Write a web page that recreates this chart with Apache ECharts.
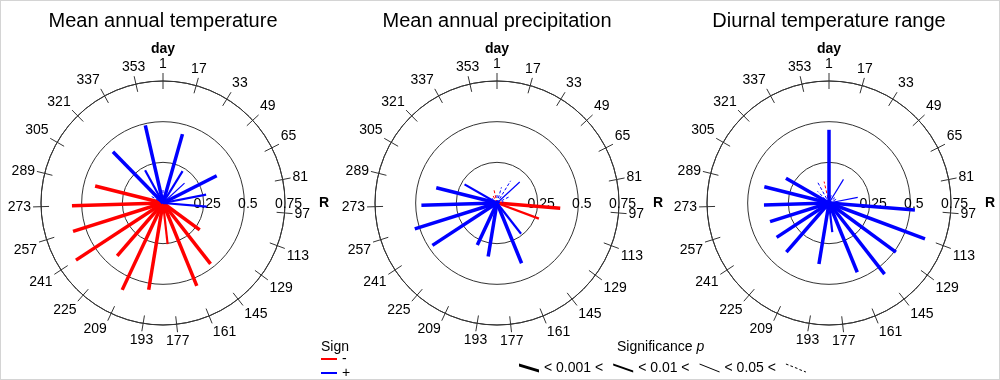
<!DOCTYPE html>
<html>
<head>
<meta charset="utf-8">
<script src="https://cdn.jsdelivr.net/npm/echarts@6/dist/echarts.min.js"></script>
<style>
html,body{margin:0;padding:0;background:#fff;}
#c{width:1000px;height:380px;box-sizing:border-box;border:1px solid #d4d4d4;}
</style>
</head>
<body>
<div id="c"></div>
<script>
// ---- data ----
const days = [1,17,33,49,65,81,97,113,129,145,161,177,193,209,225,241,257,273,289,305,321,337,353];
const panelTitles = ['Mean annual temperature','Mean annual precipitation','Diurnal temperature range'];

// R values (length of each ray), sign (+1 / -1), significance class (3: p<0.001, 2: p<0.01, 1: p<0.05, 0: n.s.)
const matR    = [0.08,0.44,0.23,0.18,0.37,0.27,0.27,0.03,0.28,0.475,0.55,0.255,0.54,0.59,0.43,0.64,0.58,0.56,0.43,0.08,0.44,0.23,0.49];
const matSign = [1,1,1,1,1,1,1,-1,-1,-1,-1,-1,-1,-1,-1,-1,-1,-1,-1,1,1,1,1];
const matSig  = [0,3,2,1,3,2,2,0,3,3,3,2,3,3,3,3,3,3,3,0,3,2,3];

const mapR    = [0.05,0.10,0.16,0.19,0.08,0.04,0.39,0.275,0.03,0.24,0.40,0.03,0.333,0.285,0.03,0.475,0.53,0.465,0.385,0.23,0.04,0.05,0.08];
const mapSign = [1,1,1,1,1,1,-1,-1,1,1,1,1,1,1,1,1,1,1,1,1,1,-1,-1];
const mapSig  = [0,0,0,1,0,0,3,2,0,2,3,0,3,3,0,3,3,3,3,2,0,0,0];

const dtrR    = [0.45,0.05,0.17,0.06,0.05,0.18,0.53,0.63,0.51,0.555,0.46,0.18,0.38,0.04,0.40,0.385,0.38,0.40,0.41,0.305,0.10,0.15,0.135];
const dtrSign = [1,1,1,1,1,1,1,1,1,1,1,1,1,1,1,1,1,1,1,1,1,1,-1];
const dtrSig  = [3,0,1,0,0,1,3,3,3,3,3,2,3,0,3,3,3,3,3,3,0,0,0];

const sigLabels = ['< 0.001 <','< 0.01 <','< 0.05 <',' '];

// ---- build ----
const panels = [[matR,matSign,matSig],[mapR,mapSign,mapSig],[dtrR,dtrSign,dtrSig]];
const centers = [162, 496, 828];
const cy = 202;
const rad = 122;
const TICK = 8;
const FONT = 'Liberation Sans, Arial, Helvetica, sans-serif';
const RED = '#ff0000', BLUE = '#0000ff', AX = '#333333';
const widths = {3:3.5, 2:2.2, 1:1.2, 0:1};

const polar = [], angleAxis = [], radiusAxis = [], series = [], title = [];

// main polars (0..2), tick polars (3..5), radius-label polars (6..8)
for (let k = 0; k < 3; k++) {
  polar.push({center:[centers[k], cy], radius: rad});
  angleAxis.push({
    polarIndex:k, type:'value', min:0, max:365, interval:16, startAngle:90, clockwise:true,
    axisLine:{show:true, lineStyle:{color:AX, width:1}},
    axisTick:{show:false},
    axisLabel:{show:true, margin:10, showMaxLabel:false, fontSize:14, color:'#000', fontFamily:FONT,
      formatter:v => String(v + 1)},
    splitLine:{show:false}
  });
  radiusAxis.push({
    polarIndex:k, type:'value', min:0, max:0.75, interval:0.25,
    axisLine:{show:false}, axisTick:{show:false}, axisLabel:{show:false},
    splitLine:{show:true, lineStyle:{color:AX, width:1}}
  });
}
for (let k = 0; k < 3; k++) {
  polar.push({center:[centers[k], cy], radius: rad - TICK});
  angleAxis.push({
    polarIndex:3+k, type:'value', min:0, max:365, interval:16, startAngle:90, clockwise:true,
    axisLine:{show:false},
    axisTick:{show:true, inside:false, length:2*TICK, lineStyle:{color:AX, width:1}},
    axisLabel:{show:false}, splitLine:{show:false}
  });
  radiusAxis.push({polarIndex:3+k, type:'value', min:0, max:0.75, show:false});
}
for (let k = 0; k < 3; k++) {
  polar.push({center:[centers[k], cy], radius: rad});
  angleAxis.push({polarIndex:6+k, type:'value', min:0, max:365, startAngle:0, show:false});
  radiusAxis.push({
    polarIndex:6+k, type:'value', min:0, max:0.75, interval:0.25,
    axisLine:{show:false}, axisTick:{show:false}, splitLine:{show:false},
    axisLabel:{show:true, margin:-8, fontSize:14, color:'#000', fontFamily:FONT, align:'center',
      padding:[0,0,0,7], formatter:v => v === 0 ? '' : String(v)},
    name:'R', nameLocation:'end', nameGap:34,
    nameTextStyle:{fontSize:14, fontWeight:'bold', color:'#000', fontFamily:FONT, verticalAlign:'middle'}
  });
}

function renderRay(params, api) {
  const a = api.value(0), r = api.value(1), s = api.value(2);
  const p0 = api.coord([0, a]);
  const p1 = api.coord([r, a]);
  return {
    type:'line',
    shape:{x1:p0[0], y1:p0[1], x2:p1[0], y2:p1[1]},
    style:{stroke:api.visual('color'), lineWidth:widths[s], lineDash: s === 0 ? [3,2] : null, lineCap:'butt'}
  };
}

for (let k = 0; k < 3; k++) {
  const [R, S, P] = panels[k];
  const neg = [], pos = [];
  for (let i = 0; i < days.length; i++) {
    const item = [days[i] - 1, R[i], P[i]];
    (S[i] < 0 ? neg : pos).push(item);
  }
  series.push({type:'custom', name:'-', coordinateSystem:'polar', polarIndex:k, silent:true,
    itemStyle:{color:RED}, encode:{angle:0, radius:1}, data:neg, renderItem:renderRay});
  series.push({type:'custom', name:'+', coordinateSystem:'polar', polarIndex:k, silent:true,
    itemStyle:{color:BLUE}, encode:{angle:0, radius:1}, data:pos, renderItem:renderRay});
  title.push({text:panelTitles[k], left:centers[k], top:10, padding:0, textAlign:'center',
    textStyle:{fontSize:20, fontWeight:'normal', color:'#000', fontFamily:FONT}});
  title.push({text:'day', left:centers[k], top:41, padding:0, textAlign:'center',
    textStyle:{fontSize:14, fontWeight:'bold', color:'#000', fontFamily:FONT}});
}
// legend-only series for significance
sigLabels.forEach(n => series.push({type:'custom', name:n, coordinateSystem:'none', data:[],
  itemStyle:{color:'#000'}, renderItem:() => null}));

title.push({text:'Sign', left:320, top:339, padding:0, textStyle:{fontSize:14, fontWeight:'normal', color:'#000', fontFamily:FONT}});
title.push({text:'{a|Significance }{b|p}', left:616, top:339, padding:0,
  textStyle:{fontWeight:'normal', rich:{a:{fontSize:14, fontWeight:'normal', color:'#000', fontFamily:FONT},
    b:{fontSize:14, fontWeight:'normal', color:'#000', fontStyle:'italic', fontFamily:FONT}}}});

// legend icon shapes
function slash(h) { return 'path://M0,0L20,' + (9 - h) + 'L20,9L0,' + h + 'Z'; }
function dashSlash() {
  let d = 'path://';
  const segs = [[0,2.5],[4.5,7],[9,11.5],[13.5,16],[18,20]];
  segs.forEach(([a,b]) => {
    d += 'M' + a + ',' + (0.4*a) + 'L' + b + ',' + (0.4*b) + 'L' + b + ',' + (0.4*b+1) + 'L' + a + ',' + (0.4*a+1) + 'Z';
  });
  return d;
}

const option = {
  backgroundColor:'#fff',
  animation:false,
  title:title,
  polar:polar, angleAxis:angleAxis, radiusAxis:radiusAxis,
  legend:[
    {data:[{name:'-', icon:'rect'},{name:'+', icon:'rect'}], orient:'vertical', left:320, top:351, height:40, padding:0,
     itemWidth:16, itemHeight:2, itemGap:0, selectedMode:false,
     textStyle:{fontSize:14, lineHeight:12, color:'#000', fontFamily:FONT}},
    {data:[{name:sigLabels[0], icon:slash(3)},{name:sigLabels[1], icon:slash(2)},{name:sigLabels[2], icon:slash(1)},{name:sigLabels[3], icon:dashSlash()}],
     orient:'horizontal', left:518, top:360, padding:0, itemWidth:20, itemHeight:9, itemGap:10, selectedMode:false,
     textStyle:{fontSize:14, color:'#000', fontFamily:FONT}}
  ],
  series:series
};

const chart = echarts.init(document.getElementById('c'), null, {renderer:'canvas'});
chart.setOption(option);
</script>
</body>
</html>
